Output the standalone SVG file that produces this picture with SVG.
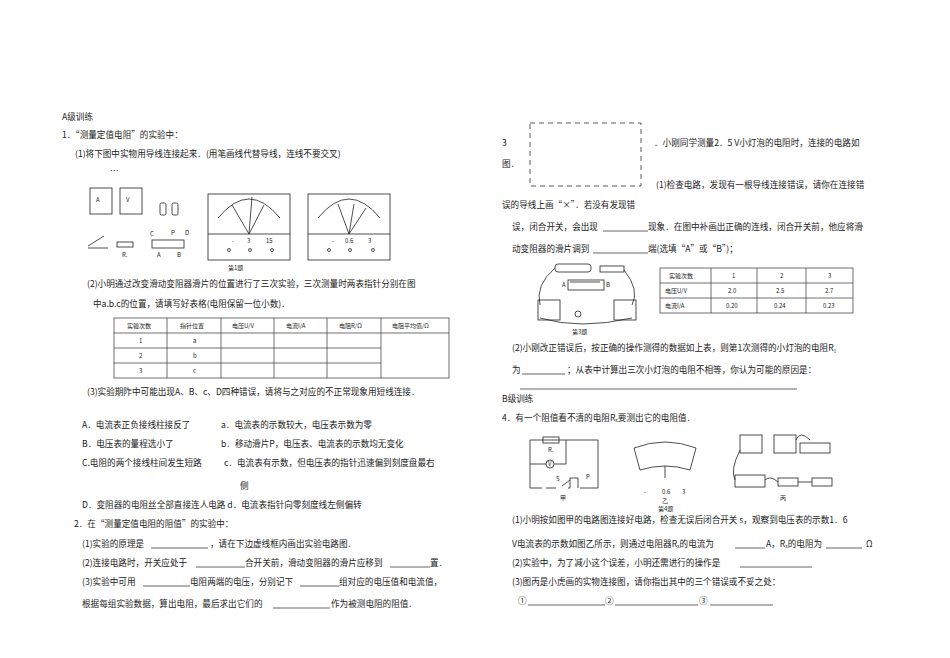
<svg xmlns="http://www.w3.org/2000/svg" width="950" height="658" viewBox="0 0 950 658">
<style>
text{font-family:"Noto Sans CJK SC","Liberation Serif",serif;font-size:8.6px;fill:#222}
.s{font-size:6px}
.l{stroke:#222;fill:none;stroke-width:0.8}
.t{stroke:#333;fill:none;stroke-width:0.7}
.u{stroke:#222;stroke-width:0.7}
</style>
<rect width="950" height="658" fill="#fff"/>
<text x="62" y="120">A级训练</text>
<text x="62" y="138">1．“测量定值电阻”的实验中：</text>
<text x="75" y="157">(1)将下图中实物用导线连接起来．(用笔画线代替导线，连线不要交叉)</text>
<text x="110" y="174">…</text>
<g id="fig1">
<rect class="l" x="90" y="188" width="22" height="26"/><text class="s" x="96" y="202">A</text>
<rect class="l" x="120" y="188" width="22" height="26"/><text class="s" x="126" y="202">V</text>
<rect class="l" x="160" y="203" width="6" height="12" rx="1.5"/><rect class="l" x="172" y="203" width="6" height="12" rx="1.5"/>
<path class="l" d="M88 246 L104 236 M88 248 H108"/>
<rect class="l" x="117" y="242" width="16" height="5"/><text class="s" x="122" y="257">Rₓ</text>
<rect class="l" x="152" y="240" width="32" height="8"/><text class="s" x="150" y="236">C</text><text class="s" x="171" y="235">P</text><text class="s" x="185" y="235">D</text><text class="s" x="157" y="257">A</text><text class="s" x="177" y="257">B</text>
<rect class="l" x="208" y="194" width="82" height="66"/>
<path class="l" d="M218 218 Q249 180 280 218 M208 234 H290 M249 234 L232 205 M249 234 L252 197 M249 234 L264 205"/>
<text class="s" x="232" y="243">-</text><text class="s" x="247" y="243">3</text><text class="s" x="266" y="243">15</text>
<circle class="l" cx="229" cy="250" r="1.5"/><circle class="l" cx="250" cy="250" r="1.5"/><circle class="l" cx="272" cy="250" r="1.5"/>
<rect class="l" x="308" y="194" width="82" height="66"/>
<path class="l" d="M318 218 Q349 180 380 218 M308 234 H390 M349 234 L338 204 M349 234 L354 204 M349 234 L366 208"/>
<text class="s" x="332" y="243">-</text><text class="s" x="345" y="243">0.6</text><text class="s" x="368" y="243">3</text>
<circle class="l" cx="329" cy="250" r="1.5"/><circle class="l" cx="350" cy="250" r="1.5"/><circle class="l" cx="373" cy="250" r="1.5"/>
<text class="s" x="228" y="270">第1题</text>
</g>
<text x="87" y="287">(2)小明通过改变滑动变阻器滑片的位置进行了三次实验，三次测量时两表指针分别在图</text>
<text x="93" y="307">中a.b.c的位置，请填写好表格(电阻保留一位小数)．</text>
<g id="table1">
<rect class="t" x="114" y="318" width="335" height="60"/>
<path class="t" d="M114 333 H449 M114 348 H381 M114 363 H381 M167 318 V378 M221 318 V378 M274 318 V378 M327 318 V378 M381 318 V378"/>
<text class="s" x="127" y="328">实验次数</text><text class="s" x="180" y="328">指针位置</text><text class="s" x="232" y="328">电压U/V</text><text class="s" x="286" y="328">电流I/A</text><text class="s" x="339" y="328">电阻R/Ω</text><text class="s" x="392" y="328">电阻平均值/Ω</text>
<text class="s" x="139" y="343">1</text><text class="s" x="139" y="358">2</text><text class="s" x="139" y="373">3</text>
<text class="s" x="193" y="343">a</text><text class="s" x="193" y="358">b</text><text class="s" x="193" y="373">c</text>
</g>
<text x="87" y="395">(3)实验期阼中可能出现A、B、c、D四种错误，请将与之对应的不正常现象用短线连接．</text>
<text x="82" y="428">A．电流表正负接线柱接反了</text><text x="221" y="428">a．电流表的示数较大，电压表示数为零</text>
<text x="82" y="447">B．电压表的量程选小了</text><text x="221" y="447">b．移动滑片P，电压表、电流表的示数均无变化</text>
<text x="82" y="466">C.电阻的两个接线柱间发生短路</text><text x="224" y="466">c．电流表有示数，但电压表的指针迅速偏到刻度盘最右</text>
<text x="240" y="489">侧</text>
<text x="82" y="508">D．变阻器的电阻丝全部直接连人电路 d．电流表指针向零刻度线左侧偏转</text>
<text x="74" y="527">2．在“测量定值电阻的阻值”的实验中：</text>
<text x="82" y="547">(1)实验的原理是</text><line class="u" x1="151" y1="548" x2="208" y2="548"/><text x="210" y="547">，请在下边虚线框内画出实验电路图．</text>
<text x="82" y="566">(2)连接电路时，开关应处于</text><line class="u" x1="196" y1="567" x2="245" y2="567"/><text x="245" y="566">合开关前，滑动变阻器的滑片应移到</text><line class="u" x1="390" y1="567" x2="430" y2="567"/><text x="430" y="566">置．</text>
<text x="82" y="585">(3)实验中可用</text><line class="u" x1="143" y1="586" x2="190" y2="586"/><text x="190" y="585">电阻两端的电压，分别记下</text><line class="u" x1="300" y1="586" x2="339" y2="586"/><text x="339" y="585">组对应的电压值和电流值，</text>
<text x="82" y="607">根据每组实验数据，算出电阻，最后求出它们的</text><line class="u" x1="273" y1="608" x2="330" y2="608"/><text x="331" y="607">作为被测电阻的阻值．</text>
<text x="502" y="146">3</text>
<rect x="530" y="123" width="111" height="63" fill="none" stroke="#333" stroke-width="0.8" stroke-dasharray="5,4"/>
<text x="654" y="146">．小刚同学测量2．5 V小灯泡的电阻时，连接的电路如</text>
<text x="502" y="167">图．</text>
<text x="656" y="188">(1)检查电路，发现有一根导线连接错误，请你在连接错</text>
<text x="502" y="208">误的导线上画“×”．若没有发现错</text>
<text x="512" y="230">误，闭合开关，会出现</text><line class="u" x1="603" y1="231" x2="648" y2="231"/><text x="648" y="230">现象．在图中补画出正确的连线，闭合开关前，他应将滑</text>
<text x="512" y="252">动变阻器的滑片调到</text><line class="u" x1="593" y1="253" x2="648" y2="253"/><text x="648" y="252">端(选填“A”或“B”)；</text>
<g id="fig3">
<rect class="l" x="555" y="264" width="36" height="8" rx="3"/>
<rect class="l" x="600" y="266" width="24" height="6"/>
<path class="l" d="M555 268 Q535 285 540 305 M624 270 Q640 290 632 305 M570 282 H600 M540 318 Q580 330 632 318"/>
<rect class="l" x="568" y="280" width="36" height="10"/>
<text class="s" x="562" y="287">A</text><text class="s" x="606" y="287">B</text>
<rect class="l" x="538" y="300" width="22" height="20"/><rect class="l" x="614" y="300" width="22" height="20"/>
<circle class="l" cx="578" cy="314" r="3"/>
<text class="s" x="572" y="334">第3题</text>
</g>
<g id="table3">
<rect class="t" x="660" y="268" width="193" height="45"/>
<path class="t" d="M660 283 H853 M660 298 H853 M711 268 V313 M757 268 V313 M806 268 V313"/>
<text class="s" x="669" y="278">实验次数</text><text class="s" x="732" y="278">1</text><text class="s" x="780" y="278">2</text><text class="s" x="828" y="278">3</text>
<text class="s" x="665" y="293">电压U/V</text><text class="s" x="728" y="293">2.0</text><text class="s" x="776" y="293">2.5</text><text class="s" x="825" y="293">2.7</text>
<text class="s" x="665" y="308">电流I/A</text><text class="s" x="726" y="308">0.20</text><text class="s" x="774" y="308">0.24</text><text class="s" x="823" y="308">0.23</text>
</g>
<text x="512" y="351">(2)小刚改正错误后，按正确的操作测得的数据如上表，则第1次测得的小灯泡的电阻R₁</text>
<text x="512" y="373">为</text><line class="u" x1="522" y1="374" x2="565" y2="374"/><text x="567" y="373">；从表中计算出三次小灯泡的电阻不相等，你认为可能的原因是：</text>
<line class="u" x1="520" y1="389" x2="797" y2="389"/>
<text x="502" y="402">B级训练</text>
<text x="502" y="421">4．有一个阻值看不清的电阻Rₓ要测出它的电阻值．</text>
<g id="fig4">
<path class="l" d="M530 440 H598 V488 H580 M530 440 V488 H542 M546 488 H556 M562 486 L570 480 M570 488 H568 M570 488 V478 H578 V488 M530 464 H546 M554 464 H566 V440"/>
<rect class="l" x="543" y="437" width="16" height="6" fill="#fff"/><text class="s" x="548" y="452">Rₓ</text>
<circle class="l" cx="550" cy="464" r="4"/><text class="s" x="548" y="466">V</text>
<text class="s" x="556" y="481">S</text><text class="s" x="586" y="479">P</text>
<text class="s" x="560" y="500">甲</text>
<path class="l" d="M634 448 Q665 436 696 448 L690 470 Q665 462 640 470 Z M665 466 V478"/>
<text class="s" x="644" y="494">-</text><text class="s" x="662" y="494">0.6</text><text class="s" x="682" y="494">3</text>
<text class="s" x="662" y="503">乙</text><text class="s" x="658" y="511">第4题</text>
<rect class="l" x="740" y="435" width="22" height="18"/><rect class="l" x="774" y="435" width="22" height="18"/>
<rect class="l" x="800" y="443" width="30" height="10"/>
<rect class="l" x="735" y="475" width="30" height="12"/><rect class="l" x="778" y="478" width="20" height="8"/><rect class="l" x="812" y="478" width="20" height="8"/>
<path class="l" d="M740 450 Q730 470 735 480 M796 440 Q800 430 810 440 M765 480 Q770 475 778 482 M798 482 H812"/>
<text class="s" x="780" y="500">丙</text>
</g>
<text x="512" y="523">(1)小明按如图甲的电路图连接好电路，检查无误后闭合开关 s，观察到电压表的示数1．6</text>
<text x="512" y="547">V电流表的示数如图乙所示，则通过电阻器Rₓ的电流为</text><line class="u" x1="735" y1="548" x2="765" y2="548"/><text x="766" y="547">A，Rₓ的电阻为</text><line class="u" x1="826" y1="548" x2="862" y2="548"/><text x="866" y="547">Ω</text>
<text x="512" y="566">(2)实验中，为了减小这个误差，小明还需进行的操作是</text><line class="u" x1="740" y1="567" x2="812" y2="567"/>
<text x="512" y="585">(3)图丙是小虎画的实物连接图，请你指出其中的三个错误或不妥之处：</text>
<text x="518" y="604">①</text><line class="u" x1="528" y1="605" x2="605" y2="605"/><text x="605" y="604">②</text><line class="u" x1="615" y1="605" x2="698" y2="605"/><text x="699" y="604">③</text><line class="u" x1="710" y1="605" x2="773" y2="605"/>
</svg>
